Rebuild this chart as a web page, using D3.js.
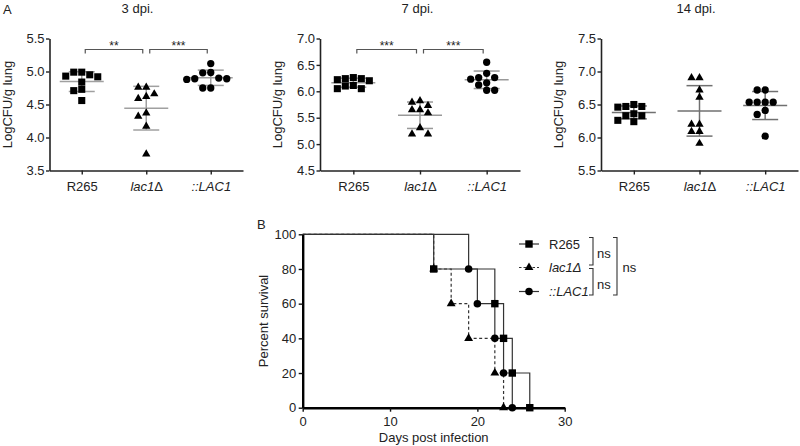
<!DOCTYPE html>
<html><head><meta charset="utf-8">
<script src="https://cdn.jsdelivr.net/npm/d3@7"></script>
<style>
body{margin:0;background:#fff}
svg text{font-family:"Liberation Sans",Arial,sans-serif;fill:#222}
</style>
</head><body>
<svg id="c" width="800" height="446"></svg>
<script>
// ---------- DATA ----------
const categories = ["R265", "lac1Δ", "::LAC1"];
const panelTitles = ["3 dpi.", "7 dpi.", "14 dpi."];

const yDomain3 = [3.5, 5.5];
const yTicks3 = [3.5, 4.0, 4.5, 5.0, 5.5];
const cfu3_R265 = [4.99, 4.99, 4.95, 4.93, 4.92, 4.84, 4.73, 4.71, 4.56];
const cfu3_lac1 = [4.76, 4.76, 4.66, 4.62, 4.59, 4.37, 4.32, 4.17, 3.75];
const cfu3_LAC1 = [5.12, 4.98, 4.985, 4.90, 4.89, 4.89, 4.88, 4.75, 4.75];
const sig3 = [{a: 0, b: 1, label: "**"}, {a: 1, b: 2, label: "***"}];

const yDomain7 = [4.5, 7.0];
const yTicks7 = [4.5, 5.0, 5.5, 6.0, 6.5, 7.0];
const cfu7_R265 = [6.26, 6.24, 6.24, 6.22, 6.20, 6.11, 6.10, 6.05, 6.05];
const cfu7_lac1 = [5.82, 5.79, 5.73, 5.65, 5.65, 5.59, 5.31, 5.19, 5.19];
const cfu7_LAC1 = [6.55, 6.34, 6.26, 6.23, 6.26, 6.16, 6.12, 6.02, 6.02];
const sig7 = [{a: 0, b: 1, label: "***"}, {a: 1, b: 2, label: "***"}];

const yDomain14 = [5.5, 7.5];
const yTicks14 = [5.5, 6.0, 6.5, 7.0, 7.5];
const cfu14_R265 = [6.50, 6.47, 6.46, 6.47, 6.36, 6.33, 6.24, 6.26, 6.33];
const cfu14_lac1 = [6.905, 6.905, 6.72, 6.61, 6.20, 6.20, 6.09, 6.09, 5.91];
const cfu14_LAC1 = [6.72, 6.72, 6.535, 6.535, 6.535, 6.535, 6.41, 6.35, 6.02];
const sig14 = [];

// survival (Kaplan-Meier steps)
const r265Days = [0, 15, 22, 23, 24, 26];
const r265Survival = [100, 80, 60, 40, 20, 0];
const lac1Days = [0, 15, 17, 19, 22, 23];
const lac1Survival = [100, 80, 60, 40, 20, 0];
const lac1cDays = [0, 19, 20, 22, 23, 24];
const lac1cSurvival = [100, 80, 60, 40, 20, 0];
const survivalXTicks = [0, 10, 20, 30];
const survivalYTicks = [0, 20, 40, 60, 80, 100];
const survivalLegend = ["R265", "lac1Δ", "::LAC1"];
const survivalComparisons = [{a: 0, b: 1, label: "ns"}, {a: 1, b: 2, label: "ns"}, {a: 0, b: 2, label: "ns"}];

// ---------- DRAW ----------
const svg = d3.select("#c");
const TOP = 38.5, BOTTOM = 170.5;
const panels = [
  {left: 49.5, right: 243, titleX: 137.5, domain: yDomain3, ticks: yTicks3, data: [cfu3_R265, cfu3_lac1, cfu3_LAC1], sig: sig3, stat: "#a0a0a0"},
  {left: 320, right: 520, titleX: 417.5, domain: yDomain7, ticks: yTicks7, data: [cfu7_R265, cfu7_lac1, cfu7_LAC1], sig: sig7, stat: "#999"},
  {left: 601, right: 798, titleX: 696, domain: yDomain14, ticks: yTicks14, data: [cfu14_R265, cfu14_lac1, cfu14_LAC1], sig: sig14, stat: "#707070"}
];
const symbols = [d3.symbolSquare, d3.symbolTriangle, d3.symbolCircle];
const symSizes = [50, 30, 42];

function catLabel(sel, name, italicDelta) {
  sel.text(null);
  if (name === "R265") { sel.append("tspan").text("R265"); }
  else if (name === "lac1Δ") {
    sel.append("tspan").attr("font-style", "italic").text("lac1");
    sel.append("tspan").attr("font-style", italicDelta ? "italic" : "normal").text("Δ");
  } else { sel.append("tspan").attr("font-style", "italic").text(name); }
}

function swarm(values, y, minDy) {
  const idx = d3.range(values.length).sort((a, b) => values[b] - values[a]);
  const placed = [], out = new Array(values.length);
  const order = [0, -1, 1, -2, 2, -3, 3];
  idx.forEach(i => {
    const py = y(values[i]);
    for (const s of order) {
      if (!placed.some(q => q.s === s && Math.abs(q.py - py) < minDy)) { placed.push({s, py}); out[i] = s; break; }
    }
  });
  return out;
}

svg.append("text").attr("x", 3).attr("y", 13.5).attr("font-size", 13).text("A");
svg.append("text").attr("x", 257).attr("y", 228.5).attr("font-size", 13).text("B");

panels.forEach((p, pi) => {
  const g = svg.append("g");
  const x = d3.scalePoint().domain(categories).range([p.left, p.right]).padding(0.5);
  const y = d3.scaleLinear().domain(p.domain).range([BOTTOM, TOP]);

  const ya = g.append("g").attr("transform", `translate(${p.left},0)`)
    .call(d3.axisLeft(y).tickValues(p.ticks).tickFormat(d3.format(".1f")).tickSize(3.5).tickPadding(1.5).tickSizeOuter(0));
  const xa = g.append("g").attr("transform", `translate(0,${BOTTOM})`)
    .call(d3.axisBottom(x).tickSize(4).tickPadding(7).tickSizeOuter(0));
  [ya, xa].forEach(a => {
    a.select(".domain").attr("stroke", "#222").attr("stroke-width", 1.6);
    a.selectAll(".tick line").attr("stroke", "#222").attr("stroke-width", 1.4);
    a.selectAll(".tick text").attr("font-size", 13).attr("fill", "#222").style("font-family", "'Liberation Sans',Arial,sans-serif");
  });
  xa.selectAll(".tick text").each(function(d) { catLabel(d3.select(this), d, false); });

  g.append("text").attr("x", p.titleX).attr("y", 12.8).attr("text-anchor", "middle").attr("font-size", 13).text(panelTitles[pi]);
  g.append("text").attr("transform", `translate(${p.left - 38},104.5) rotate(-90)`).attr("text-anchor", "middle").attr("font-size", 13).text("LogCFU/g lung");

  p.data.forEach((vals, ci) => {
    const cx = x(categories[ci]);
    const m = d3.mean(vals), sd = d3.deviation(vals);
    const sg = g.append("g").attr("stroke", p.stat).attr("stroke-width", 1.5).attr("fill", "none");
    sg.append("line").attr("x1", cx - 22).attr("x2", cx + 22).attr("y1", y(m)).attr("y2", y(m));
    sg.append("line").attr("x1", cx).attr("x2", cx).attr("y1", y(m + sd)).attr("y2", y(m - sd));
    sg.append("line").attr("x1", cx - 13).attr("x2", cx + 13).attr("y1", y(m + sd)).attr("y2", y(m + sd));
    sg.append("line").attr("x1", cx - 13).attr("x2", cx + 13).attr("y1", y(m - sd)).attr("y2", y(m - sd));
    const slots = swarm(vals, y, 7);
    g.append("g").selectAll("path").data(vals).join("path")
      .attr("d", d3.symbol().type(symbols[ci]).size(symSizes[ci]))
      .attr("transform", (d, i) => `translate(${cx + slots[i] * 8},${y(d)})`)
      .attr("fill", "#000");
  });

  p.sig.forEach(s => {
    const x1 = x(categories[s.a]) + 3.5, x2 = x(categories[s.b]) - 3.5;
    g.append("path").attr("d", `M${x1},53.5V49.5H${x2}V53.5`).attr("fill", "none").attr("stroke", "#555").attr("stroke-width", 1.2);
    g.append("text").attr("x", (x1 + x2) / 2).attr("y", 49.5).attr("text-anchor", "middle").attr("font-size", 12).attr("fill", "#333").text(s.label);
  });
});

// ---------- PANEL B ----------
const bx = d3.scaleLinear().domain([0, 30]).range([302.7, 564.7]);
const by = d3.scaleLinear().domain([0, 100]).range([407.7, 234.3]);
const gb = svg.append("g");

const groups = [
  {days: r265Days, surv: r265Survival, sym: d3.symbolSquare, size: 55, dash: null},
  {days: lac1Days, surv: lac1Survival, sym: d3.symbolTriangle, size: 34, dash: "3,2.5"},
  {days: lac1cDays, surv: lac1cSurvival, sym: d3.symbolCircle, size: 45, dash: null}
];
const line = d3.line().curve(d3.curveStepAfter).x(d => bx(d[0])).y(d => by(d[1]));
[1, 0, 2].forEach(k => {
  const gr = groups[k];
  const pts = gr.days.map((d, i) => [d, gr.surv[i]]);
  gb.append("path").attr("d", line(pts)).attr("fill", "none").attr("stroke", "#333").attr("stroke-width", 1.2)
    .attr("stroke-dasharray", gr.dash);
});
[1, 0, 2].forEach(k => {
  const gr = groups[k];
  const pts = gr.days.map((d, i) => [d, gr.surv[i]]).slice(1);
  gb.append("g").selectAll("path").data(pts).join("path")
    .attr("d", d3.symbol().type(gr.sym).size(gr.size))
    .attr("transform", d => `translate(${bx(d[0])},${by(d[1])})`).attr("fill", "#000");
});

const bya = gb.append("g").attr("transform", `translate(${bx(0)},0)`)
  .call(d3.axisLeft(by).tickValues(survivalYTicks).tickSize(4).tickPadding(2.5).tickSizeOuter(0));
const bxa = gb.append("g").attr("transform", `translate(0,${by(0)})`)
  .call(d3.axisBottom(bx).tickValues(survivalXTicks).tickSize(4).tickPadding(5).tickSizeOuter(0));
[bya, bxa].forEach(a => {
  a.select(".domain").attr("stroke", "#000").attr("stroke-width", 2.4);
  a.selectAll(".tick line").attr("stroke", "#111").attr("stroke-width", 1.4);
  a.selectAll(".tick text").attr("font-size", 13).attr("fill", "#222").style("font-family", "'Liberation Sans',Arial,sans-serif");
});
gb.append("text").attr("transform", "translate(268,321) rotate(-90)").attr("text-anchor", "middle").attr("font-size", 13).text("Percent survival");
gb.append("text").attr("x", 433.7).attr("y", 441.5).attr("text-anchor", "middle").attr("font-size", 13).text("Days post infection");

// legend
const legY = [244, 267.5, 291.5];
survivalLegend.forEach((name, i) => {
  const gr = groups[i];
  gb.append("line").attr("x1", 519).attr("x2", 539).attr("y1", legY[i]).attr("y2", legY[i])
    .attr("stroke", "#333").attr("stroke-width", 1.2).attr("stroke-dasharray", gr.dash ? "2.5,2" : null);
  gb.append("path").attr("d", d3.symbol().type(gr.sym).size(gr.size)).attr("transform", `translate(529,${legY[i]})`).attr("fill", "#000");
  const t = gb.append("text").attr("x", 549).attr("y", legY[i] + 4.5).attr("font-size", 13);
  catLabel(t, name, true);
});
// comparison brackets
const brk = [
  {x: 593, y1: 237.5, y2: 265, tx: 597, ty: 258},
  {x: 593, y1: 268.5, y2: 295, tx: 597, ty: 288.5},
  {x: 617, y1: 237.5, y2: 295, tx: 622.5, ty: 271.5}
];
survivalComparisons.forEach((c, i) => {
  const b = brk[i];
  gb.append("path").attr("d", `M${b.x - 4},${b.y1}H${b.x}V${b.y2}H${b.x - 4}`).attr("fill", "none").attr("stroke", "#333").attr("stroke-width", 1.1);
  gb.append("text").attr("x", b.tx).attr("y", b.ty).attr("font-size", 13).text(c.label);
});
</script>
</body></html>
